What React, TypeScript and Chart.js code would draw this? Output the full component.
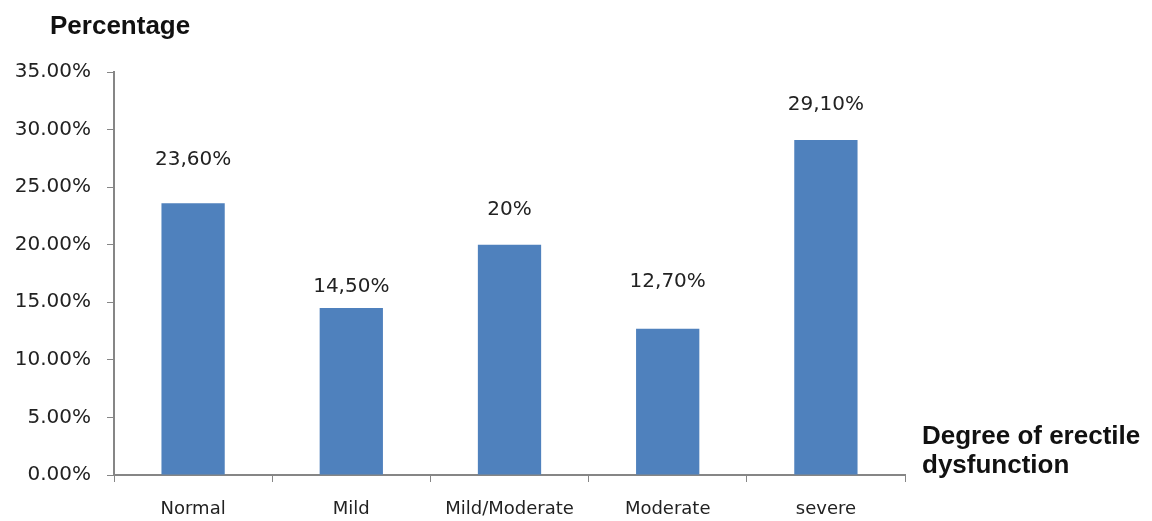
import React, { useEffect, useRef } from "react";
import { Chart, registerables } from "chart.js";

Chart.register(...registerables);

const categories = ["Normal", "Mild", "Mild/Moderate", "Moderate", "severe"];
const values = [23.6, 14.5, 20, 12.7, 29.1];
const valueLabels = ["23,60%", "14,50%", "20%", "12,70%", "29,10%"];
const labelLift = [43, 21, 35, 47, 35];
const yTicks = [0, 5, 10, 15, 20, 25, 30, 35];

const TEXT = "#222222";
const AXIS = "#868686";

export default function App() {
  const ref = useRef<HTMLCanvasElement | null>(null);

  useEffect(() => {
    document.body.style.margin = "0";
    const canvas = ref.current;
    if (!canvas) return;

    const overlay = {
      id: "overlay",
      afterDatasetsDraw(chart: any) {
        const ctx = chart.ctx;
        const meta = chart.getDatasetMeta(0);
        ctx.save();
        ctx.fillStyle = TEXT;
        ctx.textAlign = "center";
        ctx.textBaseline = "middle";
        ctx.font = "20px 'DejaVu Sans'";
        meta.data.forEach((bar: any, i: number) => {
          ctx.fillText(valueLabels[i], bar.x, bar.y - labelLift[i]);
        });
        ctx.font = "bold 26px 'Liberation Sans'";
        ctx.textAlign = "left";
        ctx.fillStyle = "#111";
        ctx.fillText("Percentage", 50, 27);
        ctx.fillText("Degree of erectile", 922, 437);
        ctx.fillText("dysfunction", 922, 466);
        ctx.restore();
      },
    };

    const chart = new Chart(canvas, {
      type: "bar",
      data: {
        labels: categories,
        datasets: [
          {
            data: values,
            backgroundColor: "#4F81BD",
            barPercentage: 0.4,
            categoryPercentage: 1,
          },
        ],
      },
      options: {
        animation: false,
        responsive: false,
        maintainAspectRatio: false,
        layout: { padding: { left: 0, right: 247, top: 72, bottom: 0 } },
        plugins: {
          legend: { display: false },
          tooltip: { enabled: false },
          title: { display: false },
        },
        scales: {
          x: {
            grid: {
              display: true,
              drawOnChartArea: false,
              offset: true,
              color: AXIS,
              tickLength: 7,
            },
            border: { display: true, color: AXIS, width: 2 },
            ticks: {
              color: TEXT,
              font: { family: "'DejaVu Sans'", size: 18 },
              padding: 17,
              maxRotation: 0,
              autoSkip: false,
            },
            afterFit: (s: any) => {
              s.height = 46;
            },
          },
          y: {
            min: 0,
            max: 35,
            afterBuildTicks: (s: any) => {
              s.ticks = yTicks.map((v) => ({ value: v }));
            },
            grid: {
              display: true,
              drawOnChartArea: false,
              color: AXIS,
              tickLength: 7,
            },
            border: { display: true, color: AXIS, width: 2 },
            ticks: {
              color: TEXT,
              font: { family: "'DejaVu Sans'", size: 20 },
              padding: 16,
              callback: (v: any) => Number(v).toFixed(2) + "%",
            },
            afterFit: (s: any) => {
              s.width = 114;
            },
          },
        },
      },
      plugins: [overlay],
    });

    return () => chart.destroy();
  }, []);

  return (
    <div style={{ width: 1152, height: 521, background: "#fff" }}>
      <canvas ref={ref} width={1152} height={521} />
    </div>
  );
}
